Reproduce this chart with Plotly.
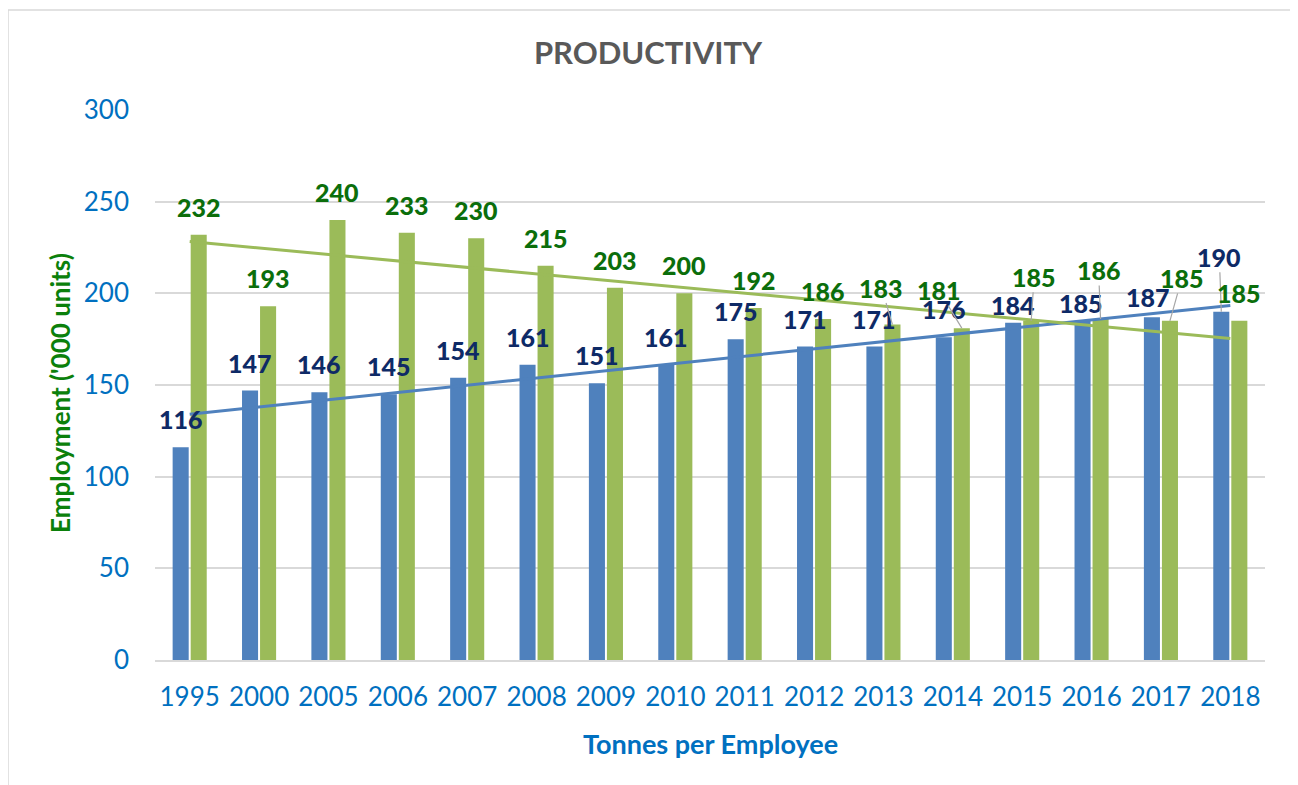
import numpy as np
import plotly.graph_objects as go

years = ["1995", "2000", "2005", "2006", "2007", "2008", "2009", "2010",
         "2011", "2012", "2013", "2014", "2015", "2016", "2017", "2018"]
tonnes_per_employee = [116, 147, 146, 145, 154, 161, 151, 161,
                       175, 171, 171, 176, 184, 185, 187, 190]
employment = [232, 193, 240, 233, 230, 215, 203, 200,
              192, 186, 183, 181, 185, 186, 185, 185]

title_text = "PRODUCTIVITY"
y_title = "Employment ('000 units)"
x_title = "Tonnes per Employee"

BLUE = "#4F81BD"
GREEN = "#9BBB59"
BLUE_LBL = "#0E2A66"
GREEN_LBL = "#0B6E0B"
TICK = "#0070C0"
FONT = "Lato"

# plot area in figure pixels
L, R, T, B = 147, 1257, 102, 652
PW, PH = R - L, B - T

# label offsets (pixels) from bar top: default (0, -28); moved labels get leader lines
blue_moves = {"2015": (0, -18, False), "2016": (-2, -18, False),
              "2017": (-4, -20, False), "2018": (-2, -55, True)}
green_moves = {"2013": (-11, -37, True), "2014": (-23, -38, True),
               "2015": (3, -44, True), "2016": (-2, -49, True),
               "2017": (12, -43, True)}

pos = list(range(len(years)))

fig = go.Figure()
fig.add_trace(go.Bar(x=pos, y=tonnes_per_employee, marker_color=BLUE,
                     marker_line_width=0, name="Tonnes per Employee"))
fig.add_trace(go.Bar(x=pos, y=employment, marker_color=GREEN,
                     marker_line_width=0, name="Employment"))

idx = np.arange(len(years))
for vals, col in ((tonnes_per_employee, BLUE), (employment, GREEN)):
    k, b = np.polyfit(idx, vals, 1)
    fig.add_trace(go.Scatter(x=[pos[0], pos[-1]],
                             y=[float(b), float(k * idx[-1] + b)],
                             mode="lines", line=dict(color=col, width=3),
                             hoverinfo="skip"))

annotations = []
for vals, xsh, col, moves in ((tonnes_per_employee, -9, BLUE_LBL, blue_moves),
                              (employment, 9, GREEN_LBL, green_moves)):
    for p, yr, v in zip(pos, years, vals):
        dx, dy, lead = moves.get(yr, (0, -28, False))
        font = dict(family=FONT, size=25, color=col, weight=900)
        if lead:
            annotations.append(dict(x=p, y=v, xref="x", yref="y", text=str(v),
                                    showarrow=True, arrowhead=0, arrowwidth=1.2,
                                    arrowcolor="#A6A6A6", ax=dx, ay=dy,
                                    axref="pixel", ayref="pixel",
                                    xshift=xsh, standoff=0, font=font,
                                    borderpad=0))
        else:
            annotations.append(dict(x=p, y=v, xref="x", yref="y", text=str(v),
                                    showarrow=False, xshift=xsh + dx, yshift=-dy,
                                    yanchor="middle", font=font))

annotations.append(dict(text=y_title, xref="paper", yref="paper",
                        x=(52 - L) / PW, y=0.5 - 8 / PH, textangle=-90,
                        showarrow=False, xanchor="center", yanchor="middle",
                        font=dict(family=FONT, size=26, color="#0B800B", weight="bold")))
annotations.append(dict(text=x_title, xref="paper", yref="paper",
                        x=0.5, y=(B - 735) / PH,
                        showarrow=False, xanchor="center", yanchor="middle",
                        font=dict(family=FONT, size=27, color=TICK, weight="bold")))

fig.update_layout(
    width=1298, height=785,
    margin=dict(l=L, r=1298 - R, t=T, b=785 - B),
    paper_bgcolor="white", plot_bgcolor="white",
    showlegend=False,
    barmode="group", bargap=0.48, bargroupgap=0.11,
    title=dict(text=title_text, x=640 / 1298, xanchor="center",
               y=1 - 45 / 785, yanchor="middle",
               font=dict(family=FONT, size=31, color="#595959", weight="bold")),
    annotations=annotations,
    shapes=[dict(type="rect", xref="paper", yref="paper",
                 x0=(0 - L) / PW, x1=(1284 - L) / PW,
                 y0=(B - 800) / PH, y1=(B - 2) / PH,
                 line=dict(color="#D9D9D9", width=1.5), layer="below")],
)
fig.update_xaxes(range=[-0.5, len(years) - 0.5], tickmode="array",
                 tickvals=pos, ticktext=years,
                 showgrid=False, showline=True, linecolor="#D9D9D9", linewidth=2,
                 ticks="", tickfont=dict(family=FONT, size=26, color=TICK),
                 ticklabelstandoff=13, zeroline=False)
fig.update_yaxes(range=[0, 300], dtick=50, showgrid=True, gridcolor="#D9D9D9",
                 gridwidth=1.5, zeroline=False, showline=False, ticks="",
                 tickfont=dict(family=FONT, size=26, color=TICK),
                 ticklabelstandoff=25)

fig.write_html("out.html")
